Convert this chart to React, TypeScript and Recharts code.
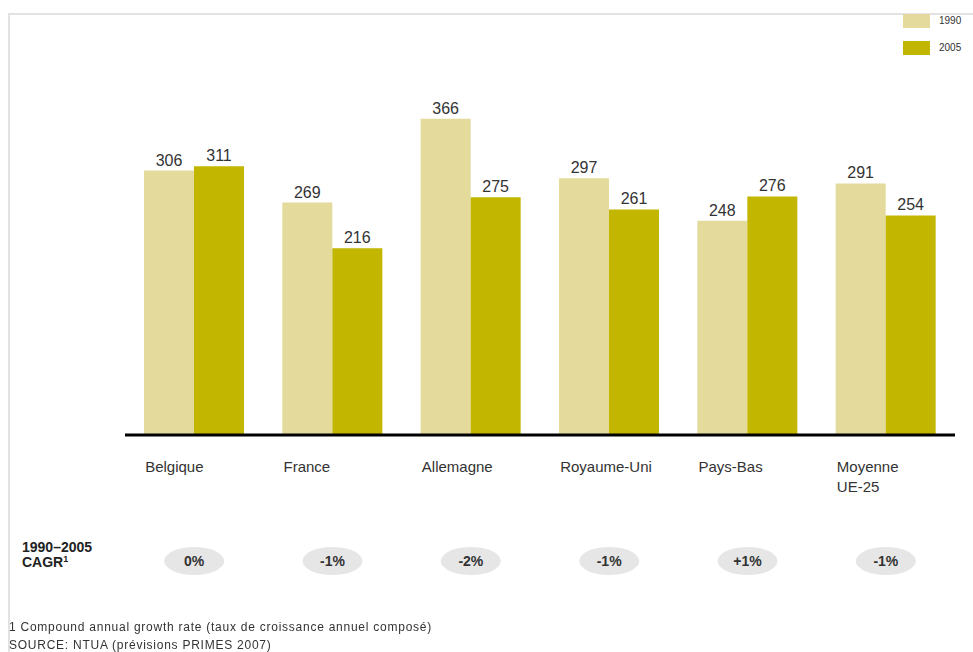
import React from "react";
import { BarChart, Bar, XAxis, YAxis, LabelList } from "recharts";

const countries = ["Belgique", "France", "Allemagne", "Royaume-Uni", "Pays-Bas", "Moyenne UE-25"];
const values1990 = [306, 269, 366, 297, 248, 291];
const values2005 = [311, 216, 275, 261, 276, 254];
const cagr = ["0%", "-1%", "-2%", "-1%", "+1%", "-1%"];
const seriesNames = ["1990", "2005"];

const COLOR_1990 = "#e4da9b";
const COLOR_2005 = "#c3b600";
const FONT = "'Liberation Sans', Arial, sans-serif";

const data = countries.map((name, i) => ({
  name,
  v1990: values1990[i],
  v2005: values2005[i],
}));

const CountryTick = (props: any) => {
  const { x, y, payload, index } = props;
  const lines = payload.value === "Moyenne UE-25" ? ["Moyenne", "UE-25"] : [payload.value];
  return (
    <g>
      {lines.map((line: string, i: number) => (
        <text
          key={line}
          x={x - 49}
          y={y + 29 + i * 20}
          fontSize={15}
          fill="#333"
          fontFamily={FONT}
        >
          {line}
        </text>
      ))}
      <ellipse cx={x} cy={y + 118} rx={30} ry={14} fill="#e6e6e6" />
      <text
        x={x}
        y={y + 123}
        textAnchor="middle"
        fontSize={14}
        fontWeight="bold"
        fill="#333"
        fontFamily={FONT}
      >
        {cagr[index]}
      </text>
    </g>
  );
};

export default function App() {
  const legendColors = [COLOR_1990, COLOR_2005];
  return (
    <div
      style={{
        position: "fixed",
        top: 0,
        left: 0,
        width: 973,
        height: 652,
        background: "#fff",
        fontFamily: FONT,
      }}
    >
      {/* light frame */}
      <div
        style={{
          position: "absolute",
          left: 8,
          top: 13,
          right: 0,
          bottom: 0,
          borderTop: "2px solid #e2e2e2",
          borderLeft: "2px solid #e2e2e2",
        }}
      />
      <BarChart
        width={973}
        height={652}
        data={data}
        margin={{ top: 72, right: 18, bottom: 0, left: 125 }}
        barCategoryGap={19}
        barGap={0}
      >
        <XAxis
          dataKey="name"
          height={217}
          interval={0}
          tickLine={false}
          axisLine={{ stroke: "#000", strokeWidth: 3 }}
          tick={<CountryTick />}
        />
        <YAxis hide domain={[0, 420]} />
        <Bar dataKey="v1990" fill={COLOR_1990} isAnimationActive={false}>
          <LabelList dataKey="v1990" position="top" offset={5} fontSize={16} fill="#333" fontFamily={FONT} />
        </Bar>
        <Bar dataKey="v2005" fill={COLOR_2005} isAnimationActive={false}>
          <LabelList dataKey="v2005" position="top" offset={5} fontSize={16} fill="#333" fontFamily={FONT} />
        </Bar>
      </BarChart>
      {/* legend */}
      <div style={{ position: "absolute", top: 7, left: 903, fontSize: 10, color: "#333" }}>
        {seriesNames.map((label, i) => (
          <div key={label} style={{ display: "flex", alignItems: "center", height: 27 }}>
            <div style={{ width: 27, height: 14, background: legendColors[i], marginRight: 9 }} />
            {label}
          </div>
        ))}
      </div>
      <div
        style={{
          position: "absolute",
          left: 22,
          top: 540,
          fontSize: 14,
          fontWeight: "bold",
          color: "#222",
          lineHeight: "15px",
        }}
      >
        <div>1990–2005</div>
        <div>
          CAGR<sup style={{ fontSize: 9, lineHeight: 0, verticalAlign: 5 }}>1</sup>
        </div>
      </div>
      <div
        style={{
          position: "absolute",
          left: 9,
          top: 618,
          fontSize: 12,
          color: "#333",
          lineHeight: "18px",
          letterSpacing: 0.75,
        }}
      >
        <div>1 Compound annual growth rate (taux de croissance annuel composé)</div>
        <div>SOURCE: NTUA (prévisions PRIMES 2007)</div>
      </div>
    </div>
  );
}
